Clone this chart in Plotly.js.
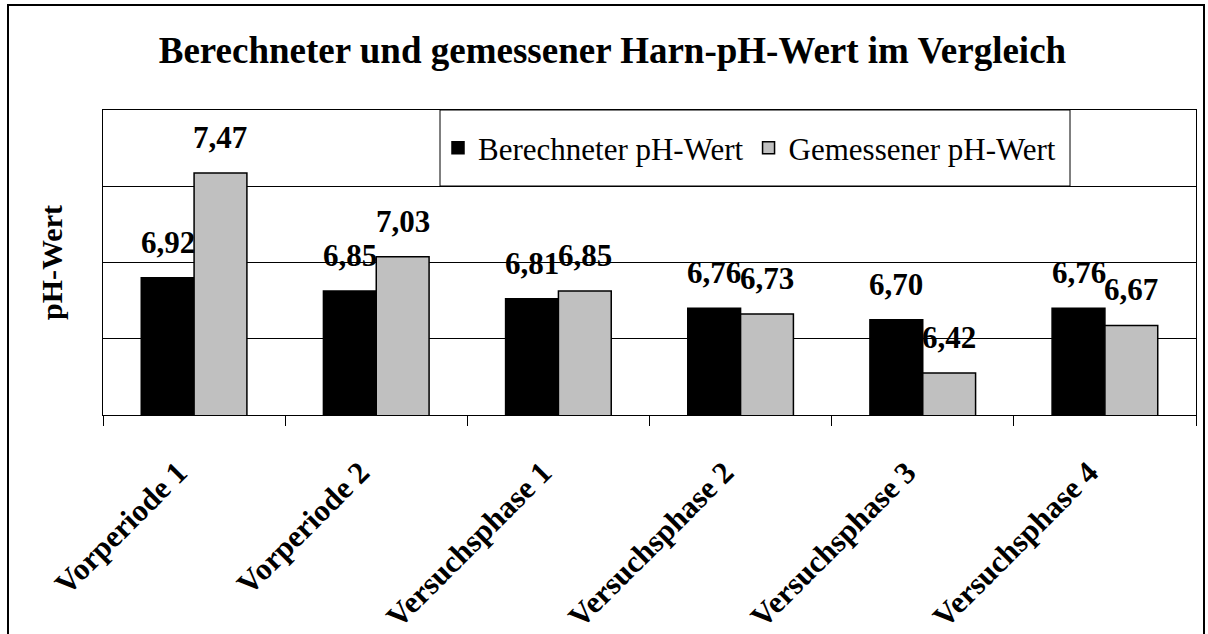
<!DOCTYPE html>
<html>
<head>
<meta charset="utf-8">
<script src="https://cdn.plot.ly/plotly-3.0.1.min.js"></script>
<style>html,body{margin:0;padding:0;background:#fff;}#chart{width:1208px;height:634px;}</style>
</head>
<body>
<div id="chart"></div>
<script>
const categories = ["Vorperiode 1", "Vorperiode 2", "Versuchsphase 1", "Versuchsphase 2", "Versuchsphase 3", "Versuchsphase 4"];
const berechnet = [6.92, 6.85, 6.81, 6.76, 6.70, 6.76];
const gemessen = [7.47, 7.03, 6.85, 6.73, 6.42, 6.67];
const seriesNames = ["Berechneter pH-Wert", "Gemessener pH-Wert"];

const W = 1208, H = 634;
const M = {l: 103, r: 12, t: 110, b: 219};
const pw = W - M.l - M.r, ph = H - M.t - M.b;
const px = v => (v - M.l) / pw;
const py = v => (H - M.b - v) / ph;

const serif = "'Liberation Serif', serif";
const fmt = v => v.toFixed(2).replace('.', ',');

const bargap = 0.42;
const barPx = pw / categories.length * (1 - bargap) / 2;

const traces = [
  {type: 'bar', name: seriesNames[0], x: categories, y: berechnet,
   marker: {color: '#000000', line: {color: '#000000', width: 1.5}}},
  {type: 'bar', name: seriesNames[1], x: categories, y: gemessen,
   marker: {color: '#c0c0c0', line: {color: '#000000', width: 1.5}}}
];

const annotations = [];
[berechnet, gemessen].forEach((arr, si) => {
  arr.forEach((v, i) => {
    annotations.push({
      x: categories[i], y: v, xref: 'x', yref: 'y',
      text: '<b>' + fmt(v) + '</b>', showarrow: false,
      xanchor: 'center', yanchor: 'bottom',
      xshift: (si === 0 ? -1 : 1) * barPx / 2,
      yshift: 16,
      font: {family: serif, size: 31, color: '#000'}
    });
  });
});

const layout = {
  width: W, height: H,
  margin: M,
  paper_bgcolor: '#fff', plot_bgcolor: '#fff',
  font: {family: serif, color: '#000'},
  title: {text: '<b>Berechneter und gemessener Harn-pH-Wert im Vergleich</b>',
          font: {family: serif, size: 37, color: '#000'},
          xref: 'container', x: 0.507, xanchor: 'center',
          yref: 'container', y: 1 - 50 / H, yanchor: 'middle'},
  barmode: 'group', bargap: bargap, bargroupgap: 0,
  showlegend: true,
  legend: {orientation: 'h', x: px(438), xanchor: 'left', y: py(148), yanchor: 'middle',
           bgcolor: 'rgba(0,0,0,0)', borderwidth: 0,
           font: {family: serif, size: 31, color: '#000'}, itemclick: false},
  xaxis: {type: 'category', tickangle: -45, tickson: 'boundaries', ticks: 'outside', ticklen: 10,
          tickcolor: '#000', tickwidth: 1, showline: true, linecolor: '#000', linewidth: 1, mirror: true,
          ticklabelstandoff: 26, ticklabelshift: -16,
          tickfont: {family: serif, size: 31, color: '#000', weight: 'bold'}, showgrid: false, fixedrange: true},
  yaxis: {range: [6.2, 7.8], dtick: 0.4, tick0: 6.2, showticklabels: false, ticks: '',
          showgrid: true, gridcolor: '#000', gridwidth: 1, zeroline: false,
          showline: true, linecolor: '#000', linewidth: 1, mirror: true,
          title: {text: '<b>pH-Wert</b>', standoff: 30, font: {family: serif, size: 30, color: '#000'}},
          fixedrange: true},
  annotations: annotations,
  shapes: [
    {type: 'rect', xref: 'paper', yref: 'paper', x0: px(8), x1: px(1204), y0: py(640), y1: py(5),
     line: {color: '#000', width: 2}, fillcolor: 'rgba(0,0,0,0)', layer: 'above'},
    {type: 'rect', xref: 'paper', yref: 'paper', x0: px(440), x1: px(1070), y0: py(186), y1: py(110),
     line: {color: '#000', width: 1}, fillcolor: '#ffffff', layer: 'above'}
  ]
};

Plotly.newPlot('chart', traces, layout, {displayModeBar: false, staticPlot: true});
</script>
</body>
</html>
